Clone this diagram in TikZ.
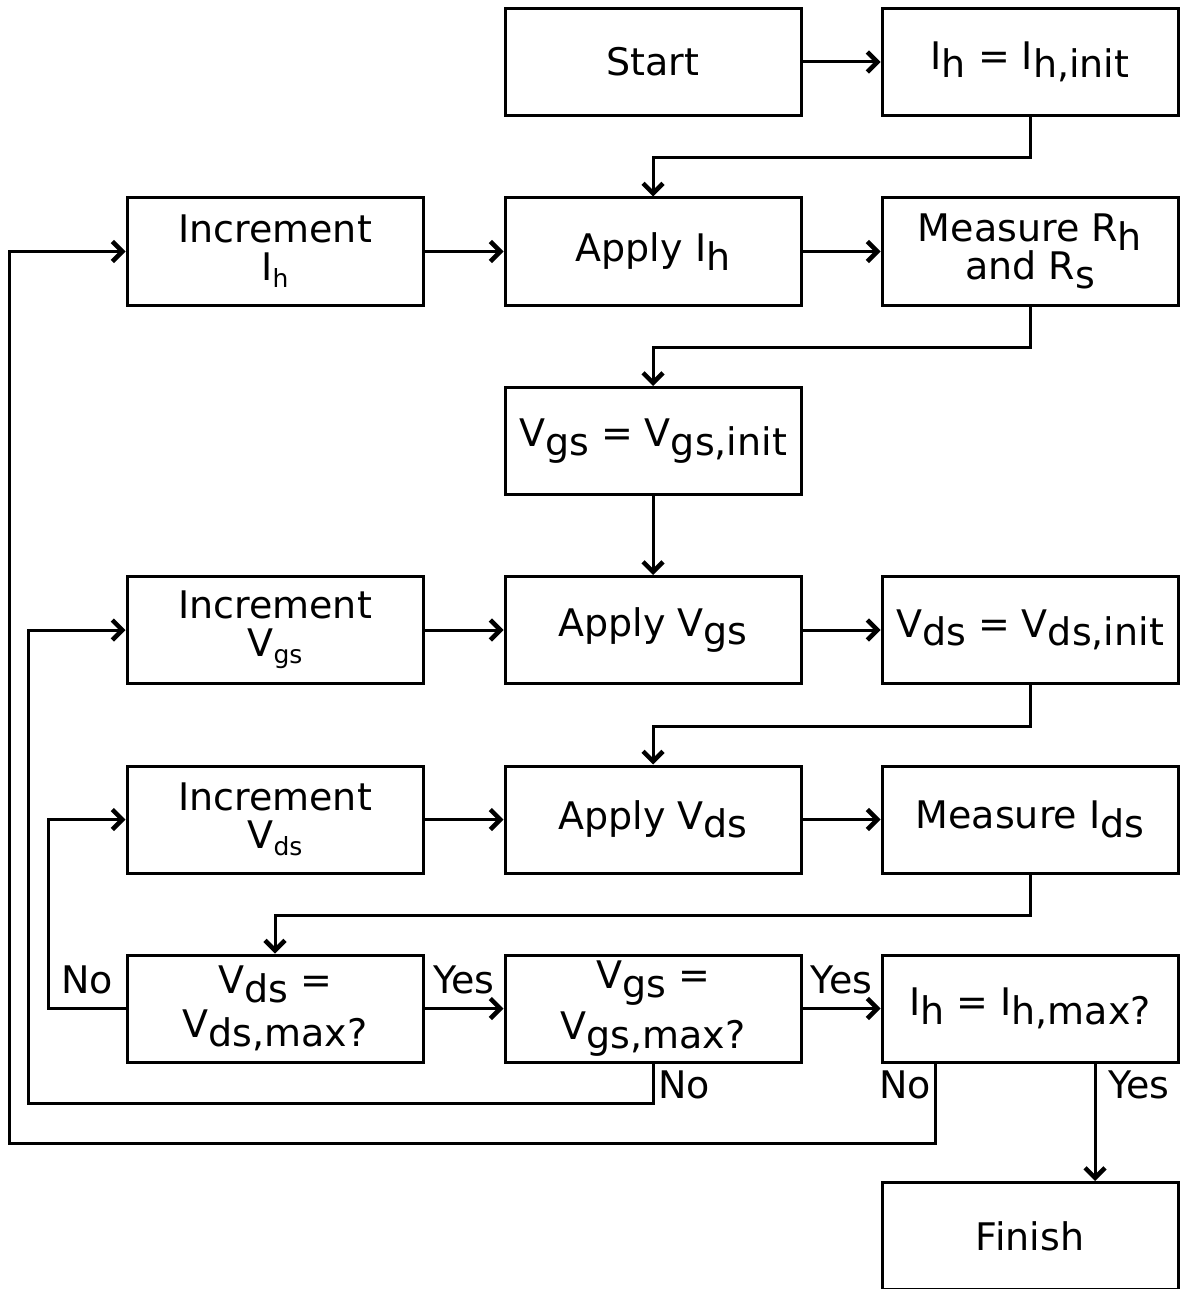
\documentclass[tikz,border=0pt]{standalone}
\usepackage{fontspec}
\setmainfont{DejaVu Sans}
\usetikzlibrary{arrows.meta}
% full-size lowered index, and small index
\newcommand{\lo}[1]{\raisebox{-8.5pt}{#1}}
\newcommand{\sm}[1]{\raisebox{-7pt}{\fontsize{25}{25}\selectfont #1}}
\begin{document}
\begin{tikzpicture}[x=1pt,y=-1pt,
  box/.style={draw, line width=3pt, minimum width=296pt, minimum height=107pt,
    inner sep=0pt, align=center, font=\fontsize{38}{38}\selectfont},
  flow/.style={line width=3pt, -{Straight Barb[length=10pt,width=20pt,line width=4.5pt]}},
  lbl/.style={font=\fontsize{38}{38}\selectfont, inner sep=0pt}]
\useasboundingbox (0,0) rectangle (1181,1289);

% process and decision boxes
\node[box] (start)   at (653,62)     {Start};
\node[box] (hinit)   at (1030,62)    {I\lo{h} = I\lo{h,init}};
\node[box] (incih)   at (275,251.5)  {Increment\\I\sm{h}};
\node[box] (apih)    at (653,251.5)  {Apply I\lo{h}};
\node[box] (meas)    at (1030,251.5) {Measure R\lo{h}\\and R\lo{s}};
\node[box] (vgsinit) at (653,441)    {V\lo{gs} = V\lo{gs,init}};
\node[box] (incvgs)  at (275,630)    {Increment\\V\sm{gs}};
\node[box] (apvgs)   at (653,630)    {Apply V\lo{gs}};
\node[box] (vdsinit) at (1030,630)   {V\lo{ds} = V\lo{ds,init}};
\node[box] (incvds)  at (275,819.5)  {Increment\\V\sm{ds}};
\node[box] (apvds)   at (653,819.5)  {Apply V\lo{ds}};
\node[box] (measids) at (1030,819.5) {Measure I\lo{ds}};
\node[box] (qvds)    at (275,1008.5) {V\lo{ds} =\\[6pt]V\lo{ds,max?}};
\node[box] (qvgs)    at (653,1008.5) {V\lo{gs} =\\[6pt]V\lo{gs,max?}};
\node[box] (qih)     at (1030,1008.5){I\lo{h} = I\lo{h,max?}};
\node[box] (finish)  at (1030,1236)  {Finish};

% loop-back corners
\coordinate (loopB) at (28,1103);
\coordinate (loopC) at (9,1143);

% main flow
\draw[flow] (start) -- (hinit);
\draw[flow] (hinit.south) -- ++(0,41) -| (apih.north);
\draw[flow] (incih) -- (apih);
\draw[flow] (apih) -- (meas);
\draw[flow] (meas.south) -- ++(0,41) -| (vgsinit.north);
\draw[flow] (vgsinit) -- (apvgs);
\draw[flow] (incvgs) -- (apvgs);
\draw[flow] (apvgs) -- (vdsinit);
\draw[flow] (vdsinit.south) -- ++(0,41) -| (apvds.north);
\draw[flow] (incvds) -- (apvds);
\draw[flow] (apvds) -- (measids);
\draw[flow] (measids.south) -- ++(0,41) -| (qvds.north);

% decisions
\draw[flow] (qvds) -- node[lbl, above=13pt] {Yes} (qvgs);
\draw[flow] (qvgs) -- node[lbl, above=13pt] {Yes} (qih);
\draw[flow] (qvds.west) -- ++(-77,0) node[lbl, pos=0.5, above=13pt] {No} |- (incvds.west);
\draw[flow] (qvgs.south) |- (loopB) |- (incvgs.west);
\node[lbl, anchor=west] (novgs) at (658,1085) {No};
\draw[flow] ([xshift=55pt]qih.south west) |- (loopC) |- (incih.west);
\node[lbl, anchor=east] (noih) at (931,1085) {No};
\draw[flow] ([xshift=65pt]qih.south) -- ([xshift=65pt]finish.north);
\node[lbl, anchor=west] (yesih) at (1108,1085) {Yes};
\end{tikzpicture}
\end{document}
